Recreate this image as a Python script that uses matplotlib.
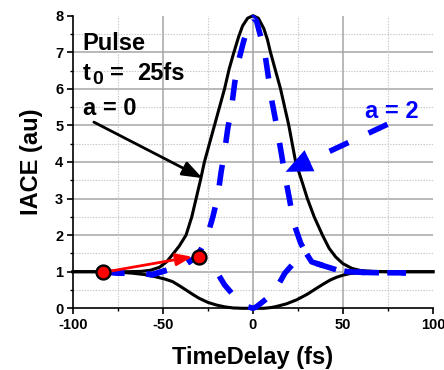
import matplotlib
matplotlib.use('Agg')
import matplotlib.pyplot as plt

plt.rcParams['font.family'] = ['Liberation Sans', 'DejaVu Sans']
plt.rcParams['font.weight'] = 'bold'
plt.rcParams['axes.unicode_minus'] = False
plt.rcParams['lines.scale_dashes'] = False

# ---- data ----
# a = 0 : upper envelope (black)
up_x = [-100, -85, -70, -62, -57, -52, -48, -45, -41, -37.2, -34, -31.6, -29.2, -27, -24.2,
        -21.4, -18.6, -15.8, -13.2, -10.6, -8, -5.8, -3, 0, 3, 6, 8, 9.7, 12.5, 15.3, 17.6,
        19.9, 21.8, 23.7, 27, 30.2, 34, 38.6, 42.3, 46, 50, 55, 60, 66, 75, 100]
up_y = [1.0, 1.0, 1.0, 1.01, 1.04, 1.12, 1.27, 1.45, 1.7, 2.0, 2.5, 3.0, 3.5, 4.0, 4.5,
        5.0, 5.5, 6.0, 6.55, 7.0, 7.42, 7.72, 7.93, 8.0, 7.93, 7.65, 7.35, 7.0, 6.5, 6.0, 5.5,
        5.0, 4.5, 4.0, 3.5, 3.0, 2.5, 2.0, 1.64, 1.4, 1.22, 1.09, 1.03, 1.01, 1.0, 1.0]
# a = 0 : lower envelope (black)
lo_x = [-100, -85, -75, -67, -60, -54, -49, -44.7, -41, -37.2, -33.5, -29.8, -25, -20.4, -15.8,
        -11.2, -6, 0, 6, 10, 13, 18.5, 24.2, 30, 35.4, 39, 42.8, 46.5, 50.3, 54, 57.8, 63, 70,
        85, 100]
lo_y = [1.0, 1.0, 0.99, 0.96, 0.92, 0.86, 0.8, 0.73, 0.62, 0.5, 0.38, 0.27, 0.16, 0.09, 0.04,
        0.01, 0.0, 0.0, 0.0, 0.02, 0.05, 0.12, 0.23, 0.38, 0.55, 0.66, 0.77, 0.85, 0.91, 0.95,
        0.97, 0.99, 1.0, 1.0, 1.0]
# a = 2 : upper envelope (blue dashed)
bu_x = [-83, -74.5, -67, -56, -44, -37, -33, -29, -26, -22.3, -19.6, -17.7, -15.8, -14, -12.1,
        -10.2, -8.4, -5.2, -1.8, 0, 2, 4.4, 6.9, 8.8, 10.6, 13.1, 15.9, 17.9, 20.2, 22.7, 26.5,
        29, 32.6, 40, 46.6, 53, 62, 71, 77, 85]
bu_y = [1.0, 0.96, 0.97, 0.92, 1.1, 1.22, 1.35, 1.6, 1.87, 2.5, 3.05, 3.73, 4.28, 4.92, 5.42,
        6.15, 6.69, 7.3, 7.85, 7.95, 7.85, 7.4, 6.87, 6.24, 5.64, 5.0, 4.19, 3.6, 3.0, 2.32, 1.78,
        1.55, 1.27, 1.15, 1.05, 1.0, 0.98, 0.97, 0.97, 0.97]
# a = 2 : lower envelope (blue dashed)
bl_x = [-83, -74.5, -67, -56, -44, -37, -33, -30, -27, -22.3, -19, -15.8, -11.6, -7.4, -3.5, 0,
        1.9, 6.5, 11.2, 14.5, 17.7, 22, 26.1, 29, 32.6, 40, 46.6, 53, 62, 71, 77, 85]
bl_y = [1.0, 0.96, 0.97, 0.92, 1.1, 1.22, 1.35, 1.45, 1.28, 1.12, 0.9, 0.64, 0.4, 0.18, 0.05, 0.0,
        0.04, 0.22, 0.41, 0.68, 0.96, 1.2, 1.41, 1.55, 1.27, 1.15, 1.05, 1.0, 0.98, 0.97, 0.97, 0.97]
# red markers
dot_x = [-83.4, -30.2]
dot_y = [0.98, 1.41]

# annotation anchor points (data coordinates)
black_arrow_tail = (-88.4, 5.09)
black_arrow_tip = (-28.1, 3.56)
blue_arrow_tail = (74.7, 5.03)
blue_arrow_tip = (18.1, 3.73)
red_arrow_tail = (-83.4, 0.98)
red_arrow_tip = (-33.7, 1.41)

x_ticks = [-100, -50, 0, 50, 100]
y_ticks = [0, 1, 2, 3, 4, 5, 6, 7, 8]

# ---- figure ----
fig = plt.figure(figsize=(4.44, 3.70), dpi=100)
ax = fig.add_axes([0.1644, 0.1668, 0.8108, 0.7908])
ax.set_xlim(-100, 100)
ax.set_ylim(0, 8)

# grid
for v in [1, 2, 3, 4, 5, 6, 7]:
    ax.axhline(v, color='#a6a6a6', lw=1.1, zorder=0)
for v in [0.5, 1.5, 2.5, 3.5, 4.5, 5.5, 6.5, 7.5]:
    ax.axhline(v, color='#c8c8c8', lw=0.8, ls=(0, (1, 1)), zorder=0)
for v in [-50, 0, 50]:
    ax.axvline(v, color='#a6a6a6', lw=1.1, zorder=0)
for v in [-75, -25, 25, 75]:
    ax.axvline(v, color='#c8c8c8', lw=0.8, ls=(0, (1, 1)), zorder=0)

ax.plot(up_x, up_y, color='black', lw=2.2, clip_on=False, zorder=3)
ax.plot(lo_x, lo_y, color='black', lw=2.2, clip_on=False, zorder=3)
ax.plot(bu_x, bu_y, color='#0000ff', lw=4, dashes=(15, 16), dash_capstyle='butt',
        clip_on=False, zorder=4)
ax.plot(bl_x, bl_y, color='#0000ff', lw=4, dashes=(15, 16), dash_capstyle='butt',
        clip_on=False, zorder=4)

ax.annotate('', xy=black_arrow_tip, xytext=black_arrow_tail,
            arrowprops=dict(arrowstyle='-|>,head_length=0.6,head_width=0.22',
                            mutation_scale=20, color='black', lw=2.0,
                            shrinkA=0, shrinkB=0), zorder=5)
# blue arrow: dashed shaft + solid head
blue_head_len = 0.95
ax.annotate('', xy=blue_arrow_tip, xytext=blue_arrow_tail,
            arrowprops=dict(arrowstyle='-', color='#0000ff', lw=4,
                            linestyle=(0, (15, 16)), capstyle='butt',
                            shrinkA=0, shrinkB=blue_head_len * 20 - 2), zorder=5)
ax.annotate('', xy=blue_arrow_tip, xytext=blue_arrow_tail,
            arrowprops=dict(arrowstyle='-|>,head_length=%g,head_width=0.42' % blue_head_len,
                            mutation_scale=20, fc='#0000ff', ec='none', lw=0,
                            shrinkA=0, shrinkB=0), zorder=5)
ax.annotate('', xy=red_arrow_tip, xytext=red_arrow_tail,
            arrowprops=dict(arrowstyle='-|>,head_length=0.8,head_width=0.3',
                            mutation_scale=12, color='red', lw=2.0,
                            shrinkA=0, shrinkB=0), zorder=6)
ax.plot(dot_x, dot_y, 'o', ms=10, mfc='red', mec='black', mew=1.7, ls='none',
        clip_on=False, zorder=7)

# texts
fs = 17
ax.text(-94.6, 7.06, 'Pulse', fontsize=fs, fontweight='bold', va='baseline', ha='left', zorder=8)
ax.text(-94.6, 6.24, 't', fontsize=fs, fontweight='bold', va='baseline', ha='left', zorder=8)
ax.text(-89.3, 6.12, '0', fontsize=14, fontweight='bold', va='baseline', ha='left', zorder=8)
ax.text(-79.5, 6.24, '=', fontsize=fs, fontweight='bold', va='baseline', ha='left', zorder=8)
ax.text(-64.6, 6.24, '25fs', fontsize=fs, fontweight='bold', va='baseline', ha='left', zorder=8)
ax.text(-94.6, 5.28, 'a = 0', fontsize=fs, fontweight='bold', va='baseline', ha='left', zorder=8)
ax.text(62.4, 5.2, 'a = 2', fontsize=fs, fontweight='bold', color='#0000ff',
        va='baseline', ha='left', zorder=8)

# axes styling
for s in ['top', 'right']:
    ax.spines[s].set_visible(False)
for s in ['left', 'bottom']:
    ax.spines[s].set_linewidth(1.2)
    ax.spines[s].set_zorder(2)
ax.set_xticks(x_ticks)
ax.set_yticks(y_ticks)
ax.set_xticks([-75, -25, 25, 75], minor=True)
ax.set_yticks([0.5, 1.5, 2.5, 3.5, 4.5, 5.5, 6.5, 7.5], minor=True)
ax.tick_params(which='major', direction='out', length=4, width=1.2, labelsize=10.5, pad=3)
ax.tick_params(which='minor', direction='out', length=2.5, width=1.0)
for lab in ax.get_xticklabels() + ax.get_yticklabels():
    lab.set_fontweight('bold')
ax.set_xlabel('TimeDelay (fs)', fontsize=17, fontweight='bold', labelpad=10)
ax.set_ylabel('IACE (au)', fontsize=17, fontweight='bold', labelpad=9)

fig.savefig('out.png', dpi=100)
